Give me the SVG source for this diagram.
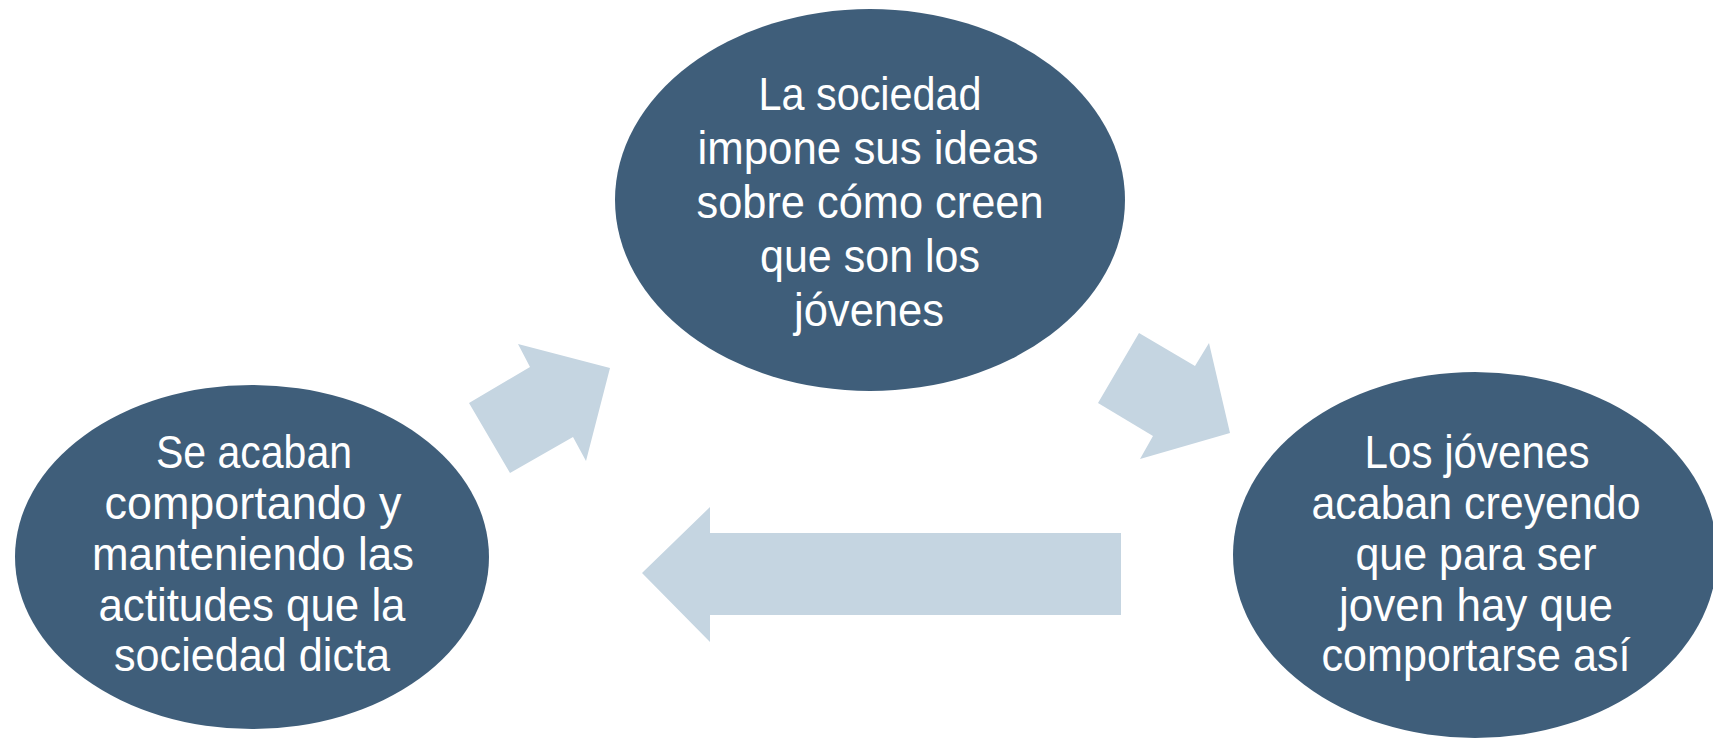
<svg xmlns="http://www.w3.org/2000/svg" width="1713" height="741" viewBox="0 0 1713 741">
<style>
.node{fill:#3F5E7A;}
.arrow{fill:#C5D5E1;}
.t{font-family:"Liberation Sans",Arial,sans-serif;font-size:46px;fill:#FFFFFF;text-anchor:middle;}
</style>
<rect width="1713" height="741" fill="#FFFFFF"/>
<g id="connectors">
<polygon class="arrow" points="469,403 530,367 518,344 610,368 586,461 573,437 510,473"/>
<polygon class="arrow" points="1139,333 1195,366 1209,343 1230,433 1140,459 1153,436 1098,403"/>
<polygon class="arrow" points="642,573 710,507 710,533 1121,533 1121,615 710,615 710,642"/>
</g>
<g id="node-top">
<ellipse class="node" cx="870" cy="200" rx="255" ry="191"/>
<text class="t" x="870" y="110" textLength="223" lengthAdjust="spacingAndGlyphs">La sociedad</text>
<text class="t" x="868" y="164" textLength="341" lengthAdjust="spacingAndGlyphs">impone sus ideas</text>
<text class="t" x="870" y="218" textLength="347" lengthAdjust="spacingAndGlyphs">sobre cómo creen</text>
<text class="t" x="870" y="272" textLength="220" lengthAdjust="spacingAndGlyphs">que son los</text>
<text class="t" x="869" y="326" textLength="150" lengthAdjust="spacingAndGlyphs">jóvenes</text>
</g>
<g id="node-left">
<ellipse class="node" cx="252" cy="557" rx="237" ry="172"/>
<text class="t" x="254" y="468" textLength="196" lengthAdjust="spacingAndGlyphs">Se acaban</text>
<text class="t" x="253" y="519" textLength="297" lengthAdjust="spacingAndGlyphs">comportando y</text>
<text class="t" x="253" y="570" textLength="322" lengthAdjust="spacingAndGlyphs">manteniendo las</text>
<text class="t" x="252" y="621" textLength="307" lengthAdjust="spacingAndGlyphs">actitudes que la</text>
<text class="t" x="252" y="671" textLength="276" lengthAdjust="spacingAndGlyphs">sociedad dicta</text>
</g>
<g id="node-right">
<ellipse class="node" cx="1475" cy="555" rx="242" ry="183"/>
<text class="t" x="1477" y="468" textLength="225" lengthAdjust="spacingAndGlyphs">Los jóvenes</text>
<text class="t" x="1476" y="519" textLength="329" lengthAdjust="spacingAndGlyphs">acaban creyendo</text>
<text class="t" x="1476" y="570" textLength="241" lengthAdjust="spacingAndGlyphs">que para ser</text>
<text class="t" x="1476" y="621" textLength="274" lengthAdjust="spacingAndGlyphs">joven hay que</text>
<text class="t" x="1476" y="671" textLength="309" lengthAdjust="spacingAndGlyphs">comportarse así</text>
</g>
</svg>
